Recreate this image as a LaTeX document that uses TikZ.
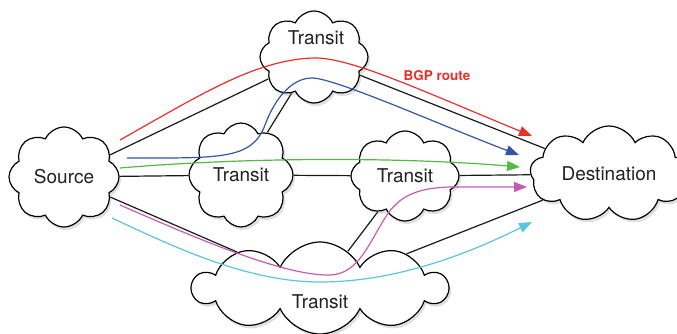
\documentclass[tikz,border=0pt]{standalone}
\usepackage{fontspec}
\setmainfont{TeX Gyre Heros}
\usetikzlibrary{shapes.symbols,shadows,arrows.meta}
\pgfdeclarelayer{bg}
\pgfsetlayers{bg,main}
\definecolor{bgpred}{HTML}{E8302A}
\definecolor{pathblue}{HTML}{3355A5}
\definecolor{pathgreen}{HTML}{55B64A}
\definecolor{pathmagenta}{HTML}{C45CB5}
\definecolor{pathcyan}{HTML}{5AC5DC}
\definecolor{textgray}{HTML}{222222}
\begin{document}
\begin{tikzpicture}[x=1pt,y=-1pt,
  netcloud/.style={cloud, cloud ignores aspect, cloud puffs=#1, cloud puff arc=130,
    draw=black, line width=1.2pt, fill=white, inner sep=0pt,
    drop shadow={shadow xshift=2pt, shadow yshift=-3pt, opacity=0.25},
    font=\fontsize{19}{22}\selectfont, text=textgray},
  netcloud/.default=8,
  cloudlabel/.style={font=\fontsize{19}{22}\selectfont, text=textgray, inner sep=0pt},
  link/.style={draw=black!90, line width=1.2pt},
  route/.style={line width=1.2pt, -{Triangle[length=13pt,width=10pt]}},
]
\useasboundingbox (0,0) rectangle (677,334);

% clouds
\node[netcloud=8, minimum width=110pt, minimum height=100pt] (src) at (64,177) {Source};
\node[netcloud=8, minimum width=108pt, minimum height=92pt] (t0) at (314,57) {};
\node[cloudlabel] (t0label) at (316,38) {Transit};
\node[netcloud=8, minimum width=104pt, minimum height=104pt] (t1) at (241,175) {Transit};
\node[netcloud=8, minimum width=108pt, minimum height=90pt] (t2) at (405,176) {Transit};
\node[netcloud=9, minimum width=158pt, minimum height=96pt] (dst) at (609,174) {Destination};
\node[netcloud=10, minimum width=254pt, minimum height=92pt] (t3) at (320,288) {};
\node[cloudlabel] (t3label) at (320,302) {Transit};

% physical links (behind clouds)
\begin{pgfonlayer}{bg}
\draw[link] (src) -- (t0);
\draw[link] (src) -- (t1);
\draw[link] (src) -- (t3);
\draw[link] (t0) -- (t1);
\draw[link] (t0) -- (dst);
\draw[link] (t1) -- (t2);
\draw[link] (t2) -- (dst);
\draw[link] (t2) -- (t3);
\draw[link] (t3) -- (dst);
\end{pgfonlayer}

% route endpoints
\coordinate (rS) at (120,140);
\coordinate (rE) at (532,136);
\coordinate (bS) at (127,158);
\coordinate (bE) at (519,155);
\coordinate (gS) at (120,168);
\coordinate (gE) at (520,167);
\coordinate (mS) at (120,205);
\coordinate (mE) at (527,187);
\coordinate (cS) at (112,218);
\coordinate (cE) at (532,222);

% routes (on top)
\draw[route, bgpred] (rS) .. controls (200,95) and (255,60) .. (313,58)
  .. controls (350,57) and (420,90) .. (rE);
\draw[route, pathblue] (bS) .. controls (220,158) and (252,160) .. (265,125)
  .. controls (275,98) and (292,78) .. (312,78)
  .. controls (335,78) and (440,125) .. (bE);
\draw[route, pathgreen] (gS) .. controls (250,157) and (400,157) .. (gE);
\draw[route, pathmagenta] (mS) .. controls (200,240) and (285,276) .. (330,275)
  .. controls (358,274) and (368,245) .. (385,218)
  .. controls (398,197) and (415,188) .. (450,187) -- (mE);
\draw[route, pathcyan] (cS) .. controls (180,250) and (250,282) .. (320,282)
  .. controls (390,282) and (460,258) .. (cE);

\node[text=bgpred, font=\bfseries\fontsize{13.5}{16}\selectfont, inner sep=0pt] (bgplabel) at (437,76) {BGP route};
\end{tikzpicture}
\end{document}
